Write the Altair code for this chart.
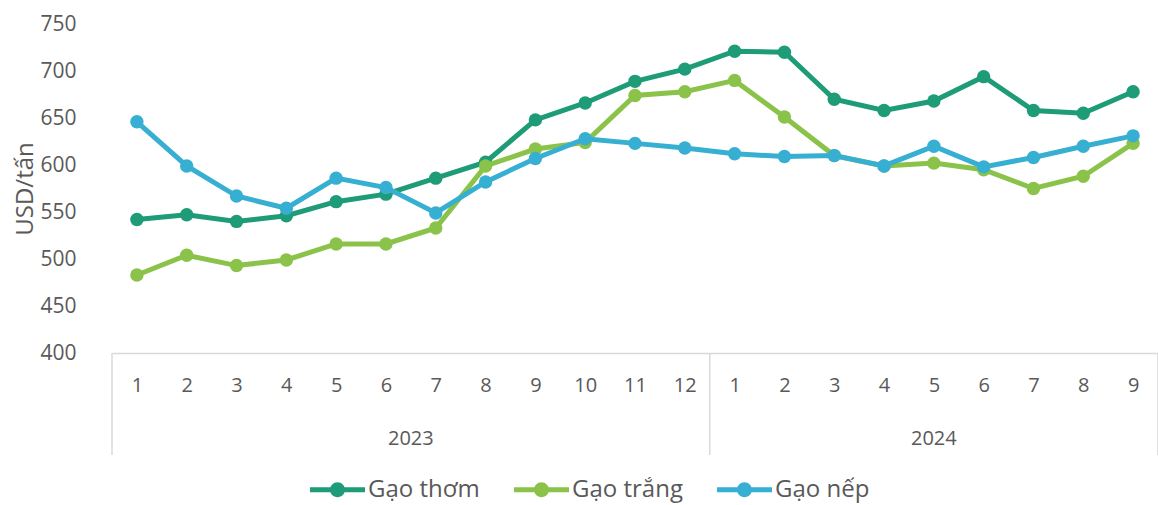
import altair as alt
import pandas as pd

# Monthly export prices (USD/tấn), Jan 2023 - Sep 2024
years = ["2023"] * 12 + ["2024"] * 9
months = [str(m) for m in range(1, 13)] + [str(m) for m in range(1, 10)]

gao_thom = [542, 547, 540, 546, 561, 569, 586, 603, 648, 666, 689, 702,
            721, 720, 670, 658, 668, 694, 658, 655, 678]
gao_trang = [483, 504, 493, 499, 516, 516, 533, 599, 617, 624, 674, 678,
             690, 651, 610, 599, 602, 595, 575, 588, 623]
gao_nep = [646, 599, 567, 554, 586, 576, 549, 582, 607, 628, 623, 618,
           612, 609, 610, 599, 620, 598, 608, 620, 631]

series_names = ["Gạo thơm", "Gạo trắng", "Gạo nếp"]
series_colors = ["#1e9b77", "#8bc34a", "#37afd2"]

FONT = "Open Sans"
TEXT = "#595959"
GRID = "#d9d9d9"
W, H = 1046, 329

rows = []
for name, vals in zip(series_names, [gao_thom, gao_trang, gao_nep]):
    for i, v in enumerate(vals):
        rows.append({"idx": i, "year": years[i], "month": months[i],
                     "series": name, "value": v})
df = pd.DataFrame(rows)

# year groups: label centre and boundaries in index units
groups = []
start = 0
for y in dict.fromkeys(years):
    n = years.count(y)
    groups.append({"year": y, "mid": start + (n - 1) / 2,
                   "left": start - 0.5, "right": start + n - 0.5})
    start += n
groups_df = pd.DataFrame(groups)
bounds_df = pd.DataFrame({"b": sorted(set(groups_df["left"]) | set(groups_df["right"]))})

label_expr = "[" + ",".join(f"'{m}'" for m in months) + "][datum.value]"

x_scale = alt.Scale(domain=[-0.5, len(months) - 0.5], nice=False, zero=False)
y_scale = alt.Scale(domain=[400, 750], nice=False, zero=False)
color_scale = alt.Scale(domain=series_names, range=series_colors)

x_enc = alt.X("idx:Q", scale=x_scale,
              axis=alt.Axis(values=list(range(len(months))), labelExpr=label_expr,
                            title=None, grid=False, ticks=False, domain=True,
                            domainColor=GRID, domainWidth=1.5,
                            labelFont=FONT, labelFontSize=20, labelColor=TEXT,
                            labelPadding=22, labelFlush=False))
y_enc = alt.Y("value:Q", scale=y_scale,
              axis=alt.Axis(values=list(range(400, 751, 50)), title="USD/tấn",
                            grid=False, ticks=False, domain=False,
                            labelFont=FONT, labelFontSize=21, labelColor=TEXT,
                            labelPadding=36, titleFont=FONT, titleFontSize=24,
                            titleFontWeight="normal", titleColor=TEXT,
                            titlePadding=2))

legend_symbol = ("M-1,-0.09H1V0.09H-1Z "
                 "M0.27,0A0.27,0.27 0 1 1 -0.27,0A0.27,0.27 0 1 1 0.27,0Z")
legend = alt.Legend(title=None, orient="none", direction="horizontal",
                    legendX=198, legendY=438,
                    symbolType=legend_symbol, symbolSize=3025,
                    symbolStrokeWidth=0, labelFont=FONT, labelFontSize=24,
                    labelColor=TEXT, labelOffset=3, columnPadding=34)

# one line + markers pair per series, drawn in series order
layers = []
for name, col in zip(series_names, series_colors):
    sub = alt.Chart(df).transform_filter(alt.datum.series == name)
    line = sub.mark_line(strokeWidth=5, color=col).encode(x=x_enc, y=y_enc)
    pts = sub.mark_point(filled=True, size=180, opacity=1).encode(
        x=x_enc, y=y_enc,
        color=alt.Color("series:N", scale=color_scale, legend=legend))
    layers += [line, pts]

# category axis decorations: group dividers and year labels
dividers = alt.Chart(bounds_df).mark_rule(color=GRID, strokeWidth=1.5).encode(
    x=alt.X("b:Q", scale=x_scale), y=alt.value(H), y2=alt.value(H + 102))
year_text = alt.Chart(groups_df).mark_text(
    font=FONT, fontSize=20, color=TEXT, baseline="middle").encode(
    x=alt.X("mid:Q", scale=x_scale), y=alt.value(H + 86), text="year:N")

chart = alt.layer(dividers, year_text, *layers).properties(
    width=W, height=H,
    autosize=alt.AutoSizeParams(type="none"),
    padding={"left": 112, "top": 24, "right": 0, "bottom": 152},
).configure_view(stroke=None)

chart.save("out.html", embed_options={"renderer": "svg", "actions": False})
